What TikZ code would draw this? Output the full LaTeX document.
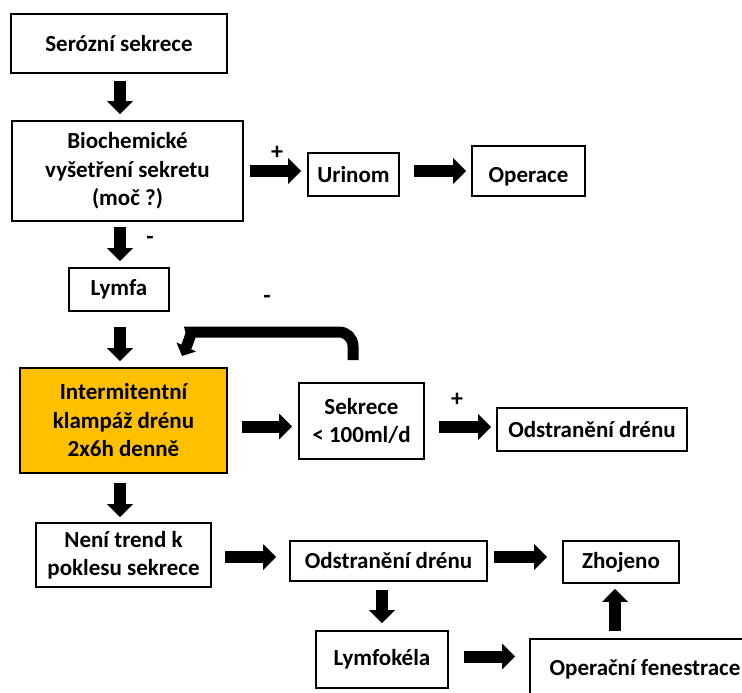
\documentclass[tikz,border=0pt]{standalone}
\usepackage{fontspec}
\setmainfont{Carlito}
\usetikzlibrary{arrows.meta,calc}
\definecolor{clampfill}{HTML}{FFC000}
\begin{document}
\begin{tikzpicture}[x=1pt,y=-1pt,
  font=\fontsize{23}{28.5}\selectfont\bfseries,
  box/.style={draw=black, line width=1.8pt, fill=white, inner sep=0pt, align=center},
  blk/.style={line width=12pt, -{Triangle[width=25pt,length=13pt]}},
  fb/.style={line width=11pt, rounded corners=14pt, -{Triangle[width=21pt,length=10pt]}},
  sign/.style={font=\fontsize{24}{26}\selectfont\bfseries, inner sep=0pt}
]
\useasboundingbox (0,0) rectangle (742,693);

% boxes
\node[box, minimum width=216pt, minimum height=59pt] (s1) at (119,43.5) {Serózní sekrece};
\node[box, minimum width=231pt, minimum height=100pt] (b2) at (127.5,171) {Biochemické\\vyšetření sekretu\\(moč ?)};
\node[box, minimum width=91pt, minimum height=43pt] (uri) at (353.5,174.5) {Urinom};
\node[box, minimum width=113pt, minimum height=50pt, text height=22.8pt, text depth=0pt] (ope) at (528.5,171) {Operace};
\node[box, minimum width=100pt, minimum height=43pt] (lym) at (119,289.5) {Lymfa};
\node[box, fill=clampfill, minimum width=207pt, minimum height=105pt] (int) at (123.5,420.5) {Intermitentní\\klampáž drénu\\2x6h denně};
\node[box, minimum width=125pt, minimum height=76pt] (sek) at (361.5,421) {Sekrece\\< 100ml/d};
\node[box, minimum width=190pt, minimum height=43pt] (odr1) at (592,429.5) {Odstranění drénu};
\node[box, minimum width=175pt, minimum height=64pt] (nen) at (123.5,555) {Není trend k\\poklesu sekrece};
\node[box, minimum width=197pt, minimum height=40pt] (odr2) at (388.5,561) {Odstranění drénu};
\node[box, minimum width=116pt, minimum height=42pt] (zho) at (621,562) {Zhojeno};
\node[box, minimum width=132pt, minimum height=57pt] (lyk) at (382,659.5) {Lymfokéla};
\node[box, minimum width=230pt, minimum height=60pt] (opf) at (645,669) {Operační fenestrace};

% main column axis
\coordinate (ax) at (120,0);

% vertical arrows
\draw[blk, shorten <=7pt, shorten >=6pt] (ax |- s1.south) -- (ax |- b2.north);
\draw[blk, shorten <=5pt, shorten >=6pt] (ax |- b2.south) -- (ax |- lym.north);
\draw[blk, shorten <=15pt, shorten >=6pt] (ax |- lym.south) -- (ax |- int.north);
\draw[blk, shorten <=9pt, shorten >=5pt] (ax |- int.south) -- (ax |- nen.north);
\draw[blk, shorten <=8pt, shorten >=7pt] (lyk.north |- odr2.south) -- (lyk.north);
\draw[blk, shorten <=7pt, shorten >=5pt] ([xshift=-6pt]zho.south |- opf.north) -- ([xshift=-6pt]zho.south);

% horizontal arrows
\draw[blk, shorten <=6pt, shorten >=6pt] (b2.east) -- (b2.east -| uri.west);
\draw[blk, shorten <=14pt, shorten >=5pt] (uri.east |- ope.west) -- (ope.west);
\draw[blk, shorten <=14pt, shorten >=6pt] ([yshift=-6pt]int.east) -- ([yshift=-6pt]int.east -| sek.west);
\draw[blk, shorten <=14pt, shorten >=5pt] ([yshift=-6pt]sek.east) -- ([yshift=-6pt]sek.east -| odr1.west);
\draw[blk, shorten <=13pt, shorten >=13pt] ([yshift=-2pt]nen.east) -- ([yshift=-2pt]nen.east -| odr2.west);
\draw[blk, shorten <=6pt, shorten >=15pt] ([yshift=4pt]odr2.east) -- ([yshift=4pt]odr2.east -| zho.west);
\draw[blk, shorten <=15pt, shorten >=14pt] ([yshift=3pt]lyk.east) -- ([yshift=3pt]lyk.east -| opf.west);

% feedback loop from the secretion check back to the clamping step
\coordinate (fbend) at (182,356);
\draw[fb] ([xshift=-8.5pt, yshift=22pt]sek.north) |- (205,332) to[out=180,in=65] (fbend);

% branch signs
\node[sign] (p1) at (277,153) {+};
\node[sign] (m1) at (150,240) {-};
\node[sign] (m2) at (267,299) {-};
\node[sign] (p2) at (457,400) {+};
\end{tikzpicture}
\end{document}
